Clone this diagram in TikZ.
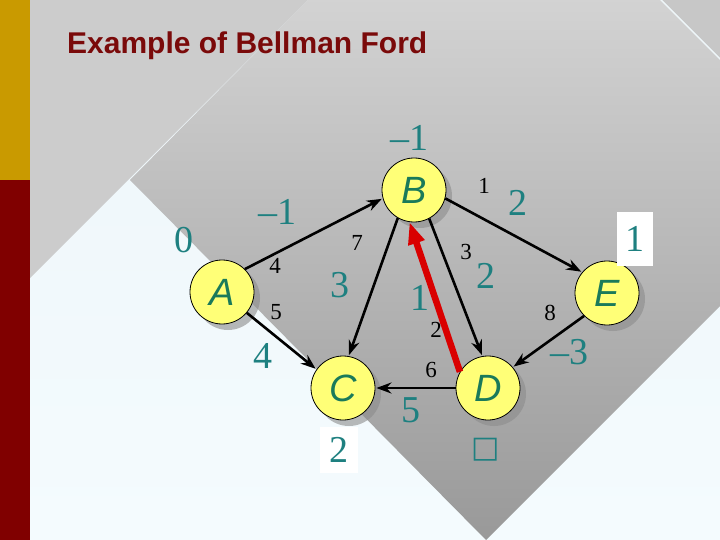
\documentclass[tikz,border=0pt]{standalone}
\usepackage{fontspec}
\setmainfont{Liberation Serif}
\newfontfamily\arialf{Liberation Sans}
\newfontfamily\dvs{DejaVu Sans}
\usetikzlibrary{arrows.meta,shadows}
\definecolor{teal1}{HTML}{1E8080}
\definecolor{lett}{HTML}{1A7A5A}
\definecolor{gold}{HTML}{C99A00}
\definecolor{dred}{HTML}{800000}
\definecolor{ttl}{HTML}{7A0A0A}
\definecolor{yel}{HTML}{FFFF77}
\definecolor{bgl}{HTML}{EEF6F9}
\definecolor{bgb}{HTML}{F4FBFE}
\newcommand{\vfnt}{\arialf\itshape\fontsize{38}{38}\selectfont}
\newcommand{\wfnt}{\fontsize{23}{23}\selectfont}
\begin{document}
\begin{tikzpicture}[x=1pt,y=-1pt,
  vert/.style={circle,draw=black,line width=0.8pt,fill=yel,minimum size=64pt,inner sep=0pt,
     text=lett,drop shadow={shadow xshift=6pt,shadow yshift=-6pt,fill=black!45,opacity=0.6}},
  wlab/.style={text=black},
  cost/.style={font=\fontsize{38}{38}\selectfont,text=teal1},
  edg/.style={-{Stealth[length=15pt,width=11pt]},line width=2.6pt,shorten >=1pt}]
\useasboundingbox (0,0) rectangle (720,540);
\shade[top color=bgl, bottom color=bgb] (0,0) rectangle (720,540);
\fill[black!20] (30,0) -- (308,0) -- (30,278) -- cycle;
\fill[black!22] (660,0) -- (720,0) -- (720,60) -- cycle;
\shade[top color=black!10, bottom color=black!40] (308,0) -- (486,-176) -- (720,58) -- (720,306) -- (486,540) -- (130,180) -- cycle;
\fill[bgl] (308,0) -- (660,0) -- (720,60) -- (720,58) -- (486,-176) -- cycle;
\fill[gold] (0,0) rectangle (30,180);
\fill[dred] (0,180) rectangle (30,540);
\node[font=\arialf\bfseries\fontsize{30}{30}\selectfont,text=ttl,anchor=west,inner sep=0pt] (title) at (67,46) {Example of Bellman Ford};
\node[vert] (A) at (222,292) {\vfnt A};
\node[vert] (B) at (414,190) {\vfnt B};
\node[vert] (C) at (343,388) {\vfnt C};
\node[vert] (D) at (488,388) {\vfnt D};
\node[vert] (E) at (607,293) {\vfnt E};
\draw[edg] (A.45) -- (B.195);
\draw[edg] (A.-40) -- (C.145);
\draw[edg] (B.-120) -- (C.80);
\draw[edg] (B.-62) -- (D.100);
\draw[edg] (B.-15) -- (E.140);
\draw[edg] (D.180) -- (C.0);
\draw[edg] (E.-135) -- (D.40);
\draw[-{Triangle[length=22pt,width=16pt]},line width=6.5pt,draw=red!85!black,fill=red!85!black] (D.150) -- (B.-98);
\node[wlab] (wAB) at (275,266) {\wfnt 4};
\node[wlab] (wAC) at (276,312) {\wfnt 5};
\node[wlab] (wBC) at (357,243) {\wfnt 7};
\node[wlab] (wBD) at (466,252) {\wfnt 3};
\node[wlab] (wBE) at (484,186) {\wfnt 1};
\node[wlab] (wDB) at (436,330) {\wfnt 2};
\node[wlab] (wDC) at (431,370) {\wfnt 6};
\node[wlab] (wED) at (550,313) {\wfnt 8};
\node[cost] (dB) at (409,138) {--1};
\node[cost] (l1) at (518,203) {2};
\node[cost] (l2) at (277,212) {--1};
\node[cost] (dA) at (184,240) {0};
\node[cost,fill=white,minimum width=36pt,minimum height=53pt,inner sep=0pt] (dE) at (635,239) {1};
\node[cost] (l3) at (340,285) {3};
\node[cost] (l4) at (420,298) {1};
\node[cost] (l5) at (486,276) {2};
\node[cost] (l6) at (263,356) {4};
\node[cost] (l7) at (569,352) {--3};
\node[cost] (l8) at (411,410) {5};
\node[cost,fill=white,minimum width=38pt,minimum height=46pt,inner sep=0pt] (dC) at (339,450) {2};
\node[text=teal1,font=\dvs\fontsize{30}{30}\selectfont] (dD) at (486,450) {□};
\end{tikzpicture}
\end{document}
